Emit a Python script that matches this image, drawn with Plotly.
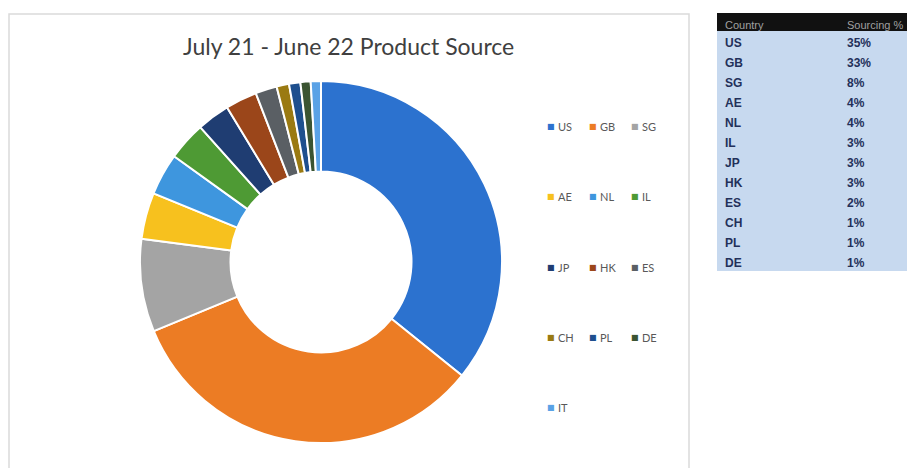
import plotly.graph_objects as go

# ---- data ----
countries = ["US", "GB", "SG", "AE", "NL", "IL", "JP", "HK", "ES", "CH", "PL", "DE", "IT"]
share = [35.4, 32.6, 8.2, 4.1, 3.7, 3.4, 2.9, 2.8, 1.9, 1.1, 1.0, 0.9, 0.9]
colors = ["#2C72CF", "#EC7C24", "#A4A4A4", "#F7C11E", "#3E96DE", "#4E9A34",
          "#1F3D72", "#9B461A", "#5A5F64", "#9A7A12", "#1E4F8E", "#3B5432", "#5AA2E6"]

table_countries = ["US", "GB", "SG", "AE", "NL", "IL", "JP", "HK", "ES", "CH", "PL", "DE"]
table_pct = ["35%", "33%", "8%", "4%", "4%", "3%", "3%", "3%", "2%", "1%", "1%", "1%"]
table_header = ["Country", "Sourcing %"]

title_text = "July 21 - June 22 Product Source"

# the page adds an 8px body margin, so the figure is 8px smaller and all
# positions below are expressed in figure pixels (screen px - 8)
W, H = 907, 460


def px(x):
    return x / W


def py(y):
    return 1 - y / H


fig = go.Figure()

fig.add_trace(go.Pie(
    labels=countries,
    values=share,
    marker=dict(colors=colors, line=dict(color="white", width=2)),
    hole=0.5,
    sort=False,
    direction="clockwise",
    rotation=0,
    textinfo="none",
    hoverinfo="label+percent",
    showlegend=False,
    domain=dict(x=[px(132), px(494)], y=[py(435), py(73)]),
))

fig.add_trace(go.Table(
    domain=dict(x=[px(709), 1.0], y=[py(290), py(5)]),
    columnwidth=[122, 76],
    header=dict(
        values=table_header,
        fill_color="#111111",
        line_color="#111111",
        font=dict(family="Arial", size=11, color="#a0a0a0"),
        align="left",
        height=17,
    ),
    cells=dict(
        values=[table_countries, table_pct],
        fill_color="#C7D9EF",
        line_color="#C7D9EF",
        font=dict(family="Arial", size=12, color="#23305A", weight="bold"),
        align="left",
        height=20,
    ),
))

# legend (3-column grid, like the original Excel legend)
col_x = [543, 585, 627]
row_y = [119, 189, 259, 329, 399]
annotations = []
for i, (c, col) in enumerate(zip(countries, colors)):
    cx = col_x[i % 3]
    cy = row_y[i // 3]
    annotations.append(dict(
        x=px(cx), y=py(cy), xref="paper", yref="paper",
        text="■", showarrow=False, xanchor="center", yanchor="middle",
        font=dict(family="DejaVu Sans", size=8, color=col),
    ))
    annotations.append(dict(
        x=px(cx + 5), y=py(cy), xref="paper", yref="paper",
        text=c, showarrow=False, xanchor="left", yanchor="middle",
        font=dict(family="Lato", size=11, color="#595959"),
    ))

annotations.append(dict(
    x=px(340), y=py(38), xref="paper", yref="paper",
    text=title_text, showarrow=False, xanchor="center", yanchor="middle",
    font=dict(family="Lato", size=23, color="#404040"),
))

fig.update_layout(
    width=W, height=H,
    margin=dict(l=0, r=0, t=0, b=0),
    paper_bgcolor="white",
    plot_bgcolor="white",
    annotations=annotations,
    shapes=[dict(type="rect", xref="paper", yref="paper",
                 x0=px(1), x1=px(681), y0=-0.05, y1=py(6),
                 line=dict(color="#DADADA", width=1.5), fillcolor="rgba(0,0,0,0)")],
)

fig.write_html("out.html")
